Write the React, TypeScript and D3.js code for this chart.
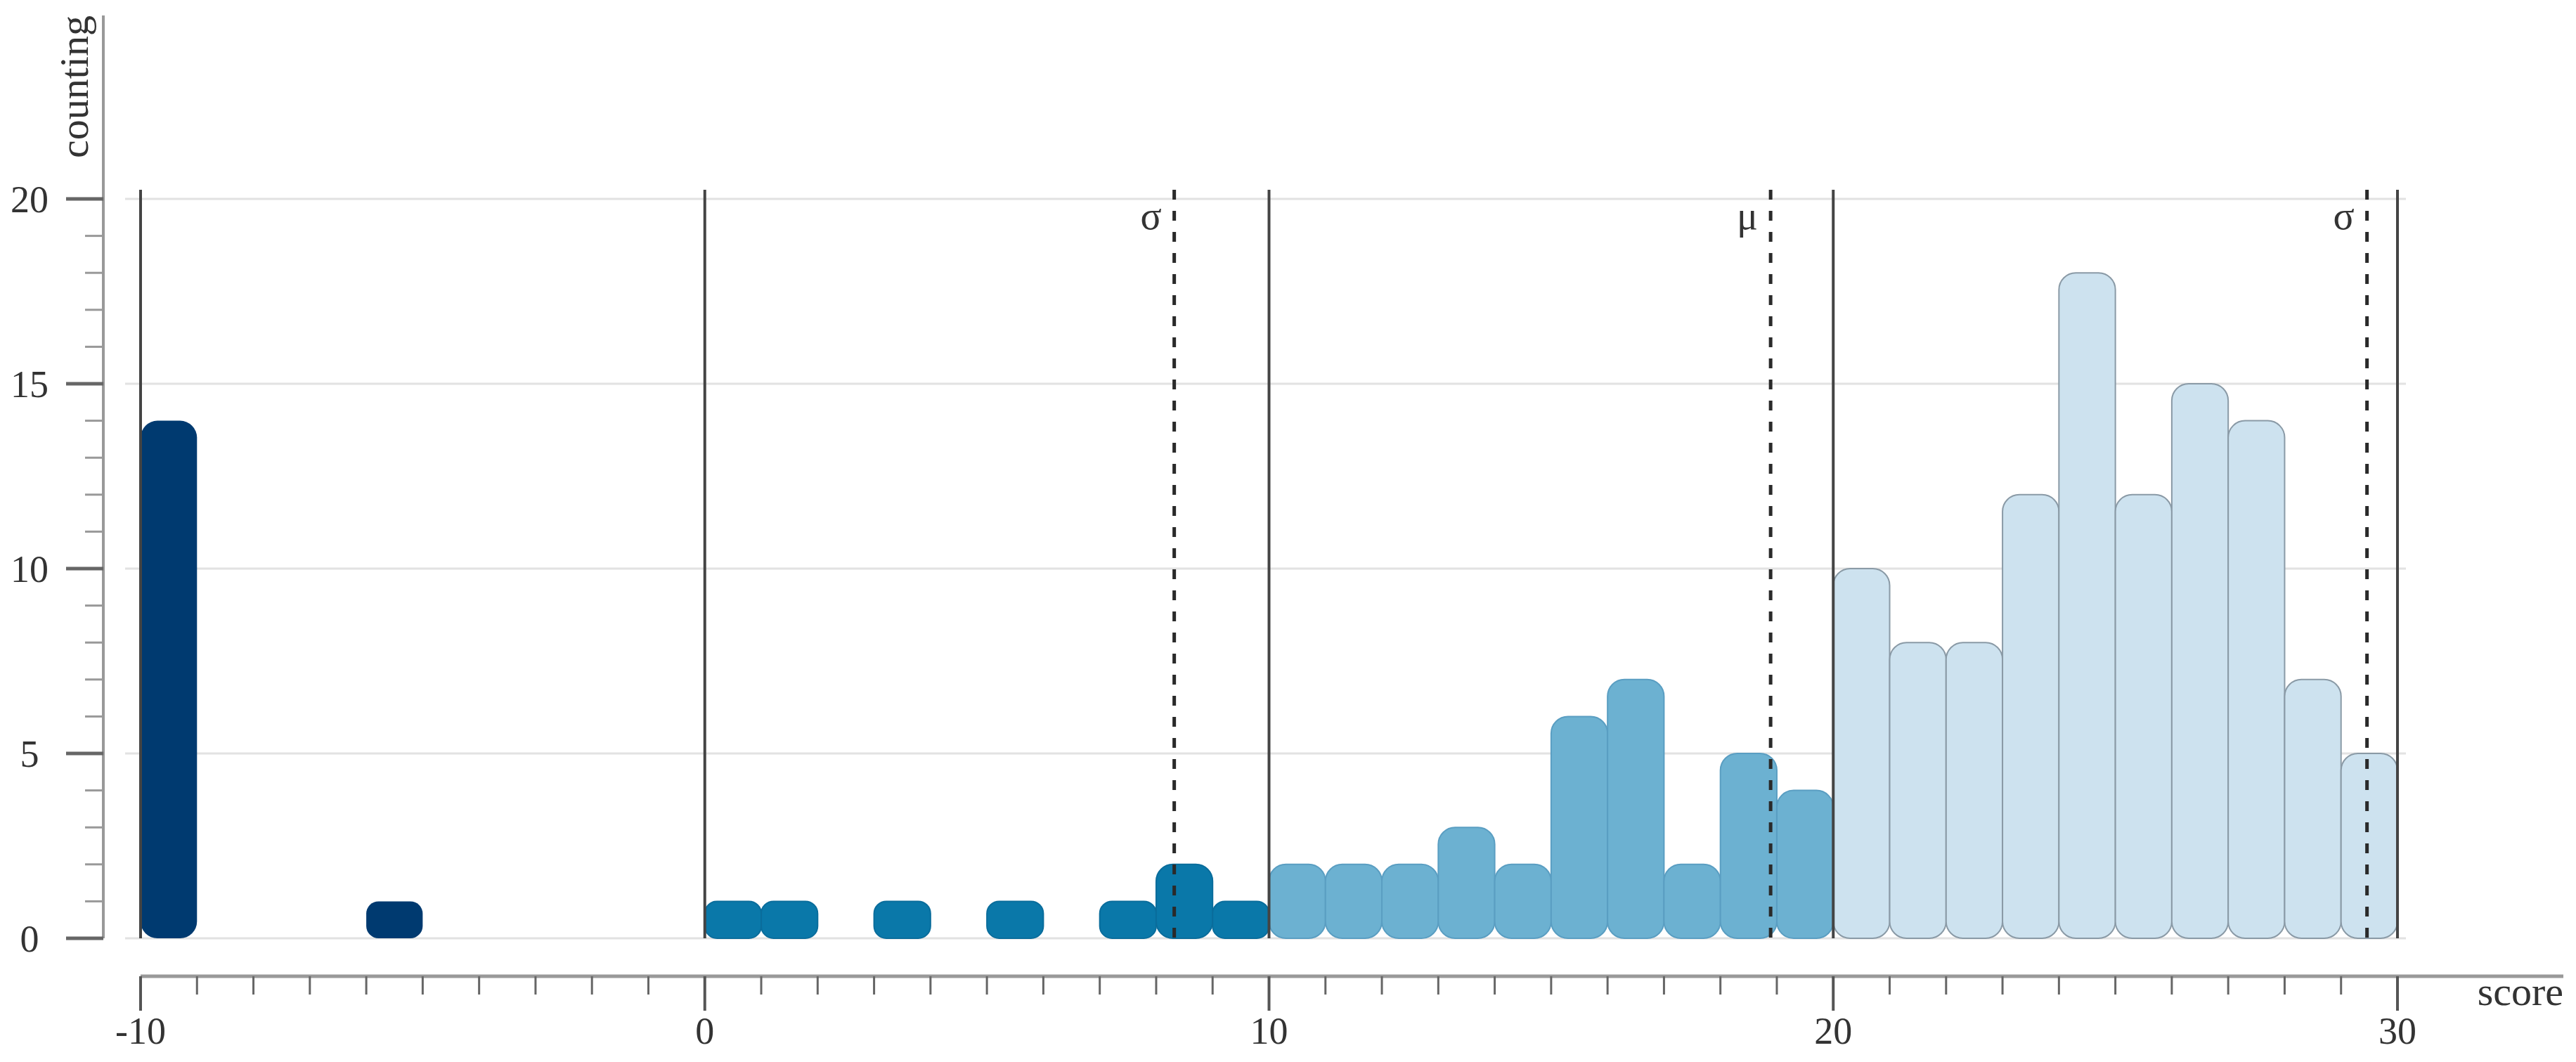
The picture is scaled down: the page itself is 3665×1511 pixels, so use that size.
import * as React from 'react';
import * as d3 from 'd3';

// histogram of scores, one bin per unit
const binStarts = d3.range(-10, 30);
const counts = [
  14, 0, 0, 0, 1, 0, 0, 0, 0, 0,
  1, 1, 0, 1, 0, 1, 0, 1, 2, 1,
  2, 2, 2, 3, 2, 6, 7, 2, 5, 4,
  10, 8, 8, 12, 18, 12, 15, 14, 7, 5,
];
const groupEdges = [-10, 0, 10, 20, 30];
const groupFills = ['#003a70', '#0a78a9', '#6cb1d1', '#cde2ef'];
const groupStrokes = ['#003a70', '#0a6d9c', '#5a9ec2', '#8a9aa6'];
const yTicksMajor = [0, 5, 10, 15, 20];
const xTicksMajor = [-10, 0, 10, 20, 30];
const mean = 18.89;
const sd = 10.57;
const statMarks = [
  {value: mean - sd, label: 'σ'},
  {value: mean, label: 'μ'},
  {value: mean + sd, label: 'σ'},
];

const FONT = '"Liberation Serif", "DejaVu Serif", serif';

export default function App() {
  const width = 3665;
  const height = 1511;

  const x = d3.scaleLinear().domain([-10, 30]).range([200, 3411]);
  const y = d3.scaleLinear().domain([0, 20]).range([1335, 283]);
  const group = d3.scaleThreshold<number, number>().domain(groupEdges.slice(1, -1)).range([0, 1, 2, 3]);

  const axisX = 147;
  const axisY = 1389;
  const lineTop = 270;

  const bars = binStarts.map((b, i) => ({x0: b, x1: b + 1, n: counts[i]})).filter(d => d.n > 0);

  return (
    <svg width={width} height={height} style={{position: 'absolute', left: 0, top: 0, background: '#fff'}}
      fontFamily={FONT}>
      {/* grid */}
      {yTicksMajor.map(t => (
        <line key={'g' + t} x1={178} x2={3423} y1={y(t)} y2={y(t)} stroke="#e2e2e2" strokeWidth={3} />
      ))}

      {/* bars */}
      {bars.map(d => {
        const g = group(d.x0);
        const h = y(0) - y(d.n);
        const r = Math.min(24, h / 3);
        return (
          <rect key={'b' + d.x0}
            x={x(d.x0)} y={y(d.n)}
            width={x(d.x1) - x(d.x0)} height={h}
            rx={r} ry={r}
            fill={groupFills[g]} stroke={groupStrokes[g]} strokeWidth={g === 0 ? 0 : 2} />
        );
      })}

      {/* group boundary lines */}
      {groupEdges.map(v => (
        <line key={'e' + v} x1={x(v)} x2={x(v)} y1={lineTop} y2={y(0)} stroke="#444" strokeWidth={4} />
      ))}

      {/* mean and sd lines */}
      {statMarks.map((s, i) => (
        <g key={'s' + i}>
          <line x1={x(s.value)} x2={x(s.value)} y1={lineTop} y2={y(0)}
            stroke="#2a2a2a" strokeWidth={5} strokeDasharray="14,16" />
          <text x={x(s.value) - 18} y={326} textAnchor="end" fontSize={56} fill="#333">{s.label}</text>
        </g>
      ))}

      {/* y axis */}
      <line x1={axisX} x2={axisX} y1={22} y2={y(0)} stroke="#999" strokeWidth={4} />
      {d3.range(0, 21).map(t => {
        const major = t % 5 === 0;
        return (
          <line key={'yt' + t} x1={major ? 94 : 121} x2={axisX} y1={y(t)} y2={y(t)}
            stroke={major ? '#666' : '#999'} strokeWidth={major ? 5 : 3} />
        );
      })}
      {yTicksMajor.map(t => (
        <text key={'yl' + t} x={42} y={y(t)} dy="0.35em" textAnchor="middle" fontSize={54} fill="#333">{t}</text>
      ))}
      <text transform={`translate(125,22) rotate(-90)`} textAnchor="end" fontSize={58} fill="#333">counting</text>

      {/* x axis */}
      <line x1={x(-10)} x2={3647} y1={axisY} y2={axisY} stroke="#999" strokeWidth={5} />
      {d3.range(-10, 31).map(t => {
        const major = t % 10 === 0;
        return (
          <line key={'xt' + t} x1={x(t)} x2={x(t)} y1={axisY} y2={major ? 1438 : 1415}
            stroke={major ? '#555' : '#666'} strokeWidth={major ? 4 : 3} />
        );
      })}
      {xTicksMajor.map(t => (
        <text key={'xl' + t} x={x(t)} y={1485} textAnchor="middle" fontSize={54} fill="#333">{t}</text>
      ))}
      <text x={3647} y={1430} textAnchor="end" fontSize={58} fill="#333">score</text>
    </svg>
  );
}
